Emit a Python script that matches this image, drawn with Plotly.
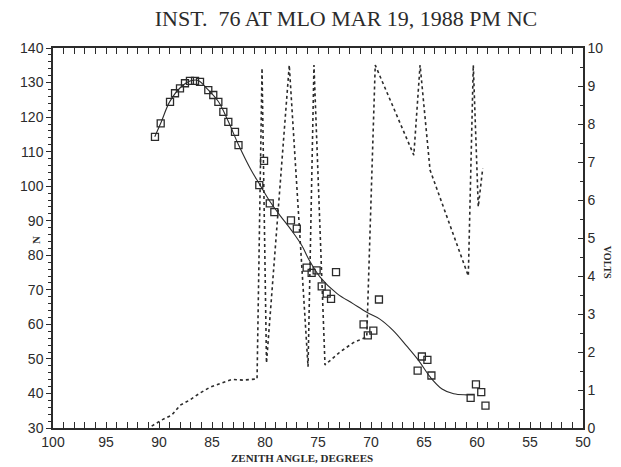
import plotly.graph_objects as go

# Measured points (zenith angle, N)
obs_angle = [90.38, 89.84, 88.96, 88.49, 88.02, 87.55, 87.08, 86.6, 86.13, 85.35,
             84.88, 84.4, 83.93, 83.46, 82.83, 82.5, 80.09, 80.54, 79.55, 79.12,
             77.55, 77.0, 76.07, 75.6, 75.13, 73.3, 74.65, 74.18, 73.77, 69.25,
             70.7, 69.78, 70.3, 65.2, 64.68, 65.6, 64.3, 60.1, 59.6, 60.6, 59.2]
obs_n = [114.3, 118.2, 124.4, 126.9, 128.3, 129.8, 130.5, 130.5, 130.2, 127.8,
         126.4, 124.4, 121.5, 118.6, 115.7, 111.9, 107.3, 100.3, 95.0, 92.5,
         90.1, 87.7, 76.4, 74.9, 75.6, 75.1, 71.0, 68.9, 67.4, 67.2,
         60.0, 58.2, 56.8, 50.7, 49.7, 46.6, 45.2, 42.6, 40.4, 38.7, 36.5]

# Fitted curve
fit_angle = [90.4, 89.8, 89.0, 88.0, 87.0, 86.3, 85.4, 84.4, 83.5, 82.5, 81.3, 80.5,
             79.5, 78.5, 77.5, 76.5, 75.9, 74.8, 73.2, 71.7, 70.4, 69.2, 67.9, 66.6,
             65.5, 64.4, 63.3, 62.2, 61.0, 60.3]
fit_n = [114.3, 118.5, 124.4, 128.5, 130.5, 130.6, 128.0, 124.5, 119.0, 112.0, 104.6, 100.5,
         95.4, 91.2, 87.2, 82.7, 79.0, 73.7, 68.9, 66.0, 63.5, 61.6, 58.2, 53.6,
         49.5, 44.7, 41.3, 39.9, 39.6, 39.6]

# Volts trace
volt_angle = [90.69, 89.75, 88.8, 88.0, 87.08, 86.13, 85.2, 84.1, 83.14, 82.05, 80.94, 80.75,
              80.28, 79.86, 77.71, 75.94, 75.38, 74.34, 72.92, 71.7, 70.4, 69.6,
              65.96, 65.37, 64.43, 60.82, 60.35, 59.88, 59.46]
volts = [0.05, 0.21, 0.34, 0.6, 0.74, 0.92, 1.07, 1.19, 1.28, 1.26, 1.28, 1.29,
         9.47, 1.71, 9.55, 1.61, 9.55, 1.66, 2.0, 2.24, 2.4, 9.55,
         7.18, 9.55, 6.79, 4.0, 9.55, 5.82, 6.83]

ink = "#2b2b2b"
tickfont = dict(family="Liberation Sans Narrow, Arial Narrow, sans-serif", size=14, color=ink)

fig = go.Figure()
fig.add_trace(go.Scatter(x=volt_angle, y=volts, yaxis="y2", mode="lines",
                         line=dict(color=ink, width=1.6, dash="dot"), showlegend=False))
fig.add_trace(go.Scatter(x=fit_angle, y=fit_n, mode="lines", line_shape="spline",
                         line=dict(color=ink, width=1.1), showlegend=False))
fig.add_trace(go.Scatter(x=obs_angle, y=obs_n, mode="markers",
                         marker=dict(symbol="square-open", size=7, color=ink,
                                     line=dict(width=1.3, color=ink)),
                         showlegend=False))

fig.update_layout(
    width=621, height=467,
    margin=dict(l=53, r=38, t=48, b=39),
    paper_bgcolor="white", plot_bgcolor="white",
    title=dict(text="INST.  76 AT MLO MAR 19, 1988 PM NC", x=346 / 621, xanchor="center",
               y=1 - 18 / 467, yanchor="middle", yref="container",
               font=dict(family="Liberation Serif, serif", size=22, color=ink)),
    xaxis=dict(range=[100, 50], tickvals=[100, 95, 90, 85, 80, 75, 70, 65, 60, 55, 50],
               ticks="inside", ticklen=6, tickwidth=1.2, tickcolor=ink,
               minor=dict(ticks="inside", dtick=1, ticklen=3, tickcolor=ink, tickwidth=1),
               showgrid=False, zeroline=False, showline=True, linecolor=ink, linewidth=1.5,
               mirror="allticks", tickfont=tickfont),
    yaxis=dict(range=[30, 140], tickvals=list(range(30, 141, 10)),
               ticks="outside", ticklen=5, tickwidth=1.2, tickcolor=ink,
               minor=dict(ticks="outside", dtick=2, ticklen=3, tickcolor=ink, tickwidth=1),
               showgrid=False, zeroline=False, showline=True, linecolor=ink, linewidth=1.5,
               tickfont=tickfont),
    yaxis2=dict(range=[0, 10], tickvals=list(range(0, 11)), overlaying="y", side="right",
                ticks="inside", ticklen=5, tickwidth=1.2, tickcolor=ink,
                minor=dict(ticks="inside", dtick=0.5, ticklen=3, tickcolor=ink, tickwidth=1),
                showgrid=False, zeroline=False, showline=True, linecolor=ink, linewidth=1.5,
                tickfont=tickfont),
    annotations=[
        dict(text="<b>ZENITH ANGLE, DEGREES</b>", xref="paper", yref="paper",
             x=0.47, y=-0.078, xanchor="center", yanchor="middle", showarrow=False,
             font=dict(family="Liberation Serif, serif", size=11, color=ink)),
        dict(text="<b>N</b>", xref="paper", yref="paper", x=-0.032, y=0.495,
             textangle=-90, xanchor="center", yanchor="middle", showarrow=False,
             font=dict(family="Liberation Serif, serif", size=11, color=ink)),
        dict(text="<b>VOLTS</b>", xref="paper", yref="paper", x=1.045, y=0.435,
             textangle=90, xanchor="center", yanchor="middle", showarrow=False,
             font=dict(family="Liberation Serif, serif", size=10, color=ink)),
    ],
)

fig.write_html("out.html")
